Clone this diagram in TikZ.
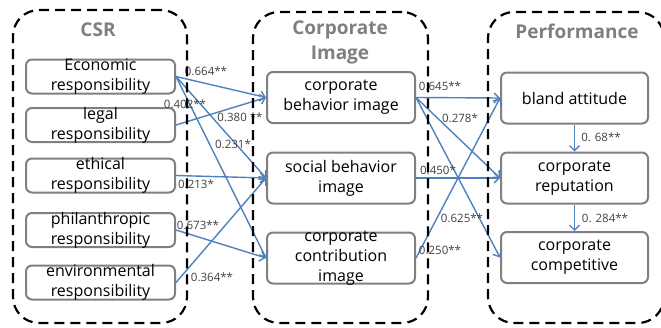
\documentclass[tikz,border=0pt]{standalone}
\usepackage{fontspec}
\setmainfont{Open Sans}
\usetikzlibrary{arrows.meta}
\definecolor{arrowblue}{RGB}{79,129,189}
\definecolor{boxgray}{RGB}{128,128,128}
\definecolor{titlegray}{RGB}{127,127,127}
\definecolor{labelgray}{RGB}{64,64,64}
\tikzset{
  lbox/.style={draw=boxgray, line width=2pt, rounded corners=6pt, fill=white,
    inner sep=0pt, outer sep=1pt, minimum width=149pt, minimum height=34pt},
  mbox/.style={lbox, minimum width=148pt, minimum height=51pt},
  btext/.style={align=center, inner sep=0pt, font=\fontsize{16pt}{20pt}\selectfont, text=black},
  conn/.style={draw=arrowblue, line width=1.4pt, -{Straight Barb[length=5pt,width=10pt,line width=1.4pt]}},
  lab/.style={inner sep=0pt, font=\fontsize{11.5pt}{13pt}\selectfont, text=labelgray},
  group/.style={draw=black, line width=2.2pt, dash pattern=on 10pt off 6pt, rounded corners=26pt, inner sep=0pt},
  gtitle/.style={align=center, inner sep=0pt, font=\fontsize{19pt}{25pt}\selectfont\bfseries, text=titlegray}
}
\begin{document}
\begin{tikzpicture}[x=1pt,y=-1pt]
\useasboundingbox (0,0) rectangle (661,327);
% CSR boxes
\node[lbox] (eco) at (100.5,76.5) {};
\node[btext] at (eco) {Economic\\responsibility};
\node[lbox] (leg) at (100.5,125) {};
\node[btext] at (leg) {legal\\responsibility};
\node[lbox] (eth) at (100.5,175.5) {};
\node[btext] at (eth) {ethical\\responsibility};
\node[lbox] (phi) at (100.5,230) {};
\node[btext] at (phi) {philanthropic\\responsibility};
\node[lbox] (env) at (100.5,282.5) {};
\node[btext] at (env) {environmental\\responsibility};
% Image boxes
\node[mbox] (cbi) at (341,97.5) {};
\node[btext] at (cbi) {corporate\\behavior image};
\node[mbox] (sbi) at (341,178) {};
\node[btext] at (sbi) {social behavior\\image};
\node[mbox] (cci) at (341,258) {};
\node[btext] at (cci) {corporate\\contribution\\image};
% Performance boxes
\node[mbox, minimum width=147pt] (ba) at (574.5,98) {};
\node[btext] at (ba) {bland attitude};
\node[mbox, minimum width=147pt] (rep) at (574.5,178) {};
\node[btext] at (rep) {corporate\\reputation};
\node[mbox, minimum width=147pt] (comp) at (574.5,257.5) {};
\node[btext] at (comp) {corporate\\competitive};
% connectors left
\draw[conn] (eco.east) -- (cbi.west);
\draw[conn] (eco.east) -- (sbi.west);
\draw[conn] (eco.east) -- (cci.west);
\draw[conn] (leg.east) -- (cbi.west);
\draw[conn] (eth.east) -- (sbi.west);
\draw[conn] (phi.east) -- (cci.west);
\draw[conn] (env.east) -- (sbi.west);
% connectors right
\draw[conn] (cbi.east) -- (ba.west);
\draw[conn] (cbi.east) -- (rep.west);
\draw[conn] (cbi.east) -- (comp.west);
\draw[conn] (sbi.east) -- (rep.west);
\draw[conn] (cci.east) -- (ba.west);
\draw[conn] (ba.south) -- (rep.north);
\draw[conn] (rep.south) -- (comp.north);
% labels
\node[lab] (l1) at (206,71) {0.664**};
\node[lab] (l2) at (185,104) {0.402**};
\node[lab] (l3) at (240,117) {0.380 **};
\node[lab] (l4) at (233,144) {0.231*};
\node[lab] (l5) at (196,184) {0.213*};
\node[lab] (l6) at (198,225) {0.673**};
\node[lab] (l7) at (212,277) {0.364**};
\node[lab] (l8) at (440,86) {0.645**};
\node[lab] (l9) at (460,118) {0.278*};
\node[lab] (l10) at (438,170) {0.450*};
\node[lab] (l11) at (462,218) {0.625**};
\node[lab] (l12) at (440,250) {0.250**};
\node[lab] (l13) at (601,137) {0. 68**};
\node[lab] (l14) at (605,218) {0. 284**};
% groups
\node[group, minimum width=174pt, minimum height=313pt] (gcsr) at (100,166.5) {};
\node[group, minimum width=175pt, minimum height=311pt] (gimg) at (340.5,167.5) {};
\node[group, minimum width=176pt, minimum height=311pt] (gperf) at (576,167.5) {};
\node[gtitle] (tcsr) at (98,30) {CSR};
\node[gtitle] (timg) at (340,42.5) {Corporate\\Image};
\node[gtitle] (tperf) at (577,31) {Performance};
\end{tikzpicture}
\end{document}
